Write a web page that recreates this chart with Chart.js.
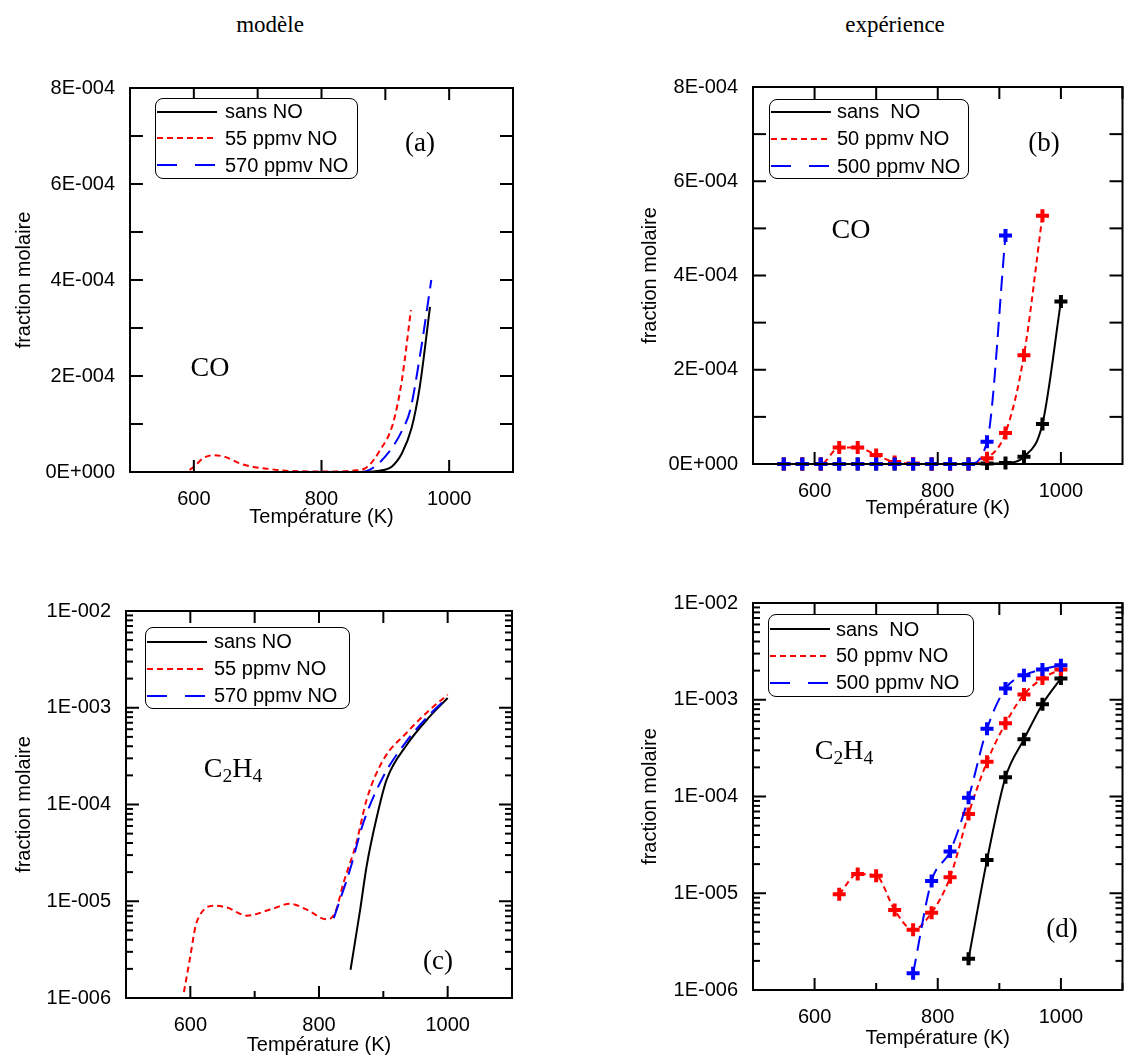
<!DOCTYPE html>
<html>
<head>
<meta charset="utf-8">
<script src="https://cdn.jsdelivr.net/npm/chart.js@4.4.1/dist/chart.umd.min.js"></script>
<style>
  body { margin: 0; background: #fff; }
  #fig { position: relative; width: 1133px; height: 1057px; overflow: hidden; font-family: "Liberation Sans", Arial, sans-serif; }
  canvas { position: absolute; }
  .serif { position: absolute; font-family: "Liberation Serif", "Times New Roman", serif; color: #000; transform: translate(-50%, -50%); white-space: nowrap; line-height: 1; }
  .serif sub { font-size: 0.7em; vertical-align: -0.25em; line-height: 0; }
  .legend { position: absolute; border: 1px solid #000; border-radius: 8px; background: #fff; box-sizing: border-box; }
  .legend .row { position: absolute; left: 1px; height: 24px; display: flex; align-items: center; white-space: pre; font-size: 20px; color: #000; }
  .legend svg { display: block; }
</style>
</head>
<body>
<div id="fig">
  <div class="serif" style="left:270px; top:24px; font-size:23px;">modèle</div>
  <div class="serif" style="left:895px; top:24px; font-size:23px;">expérience</div>

  <canvas id="chartA" width="533" height="475" style="left:0px; top:60px;"></canvas>
  <canvas id="chartB" width="573" height="475" style="left:560px; top:60px;"></canvas>
  <canvas id="chartC" width="533" height="477" style="left:0px; top:580px;"></canvas>
  <canvas id="chartD" width="573" height="482" style="left:560px; top:575px;"></canvas>

  <div class="serif" style="left:420px; top:142px; font-size:27px;">(a)</div>
  <div class="serif" style="left:210px; top:367px; font-size:28px;">CO</div>
  <div class="serif" style="left:1044px; top:142px; font-size:27px;">(b)</div>
  <div class="serif" style="left:851px; top:229px; font-size:28px;">CO</div>
  <div class="serif" style="left:233px; top:768px; font-size:28px;">C<sub>2</sub>H<sub>4</sub></div>
  <div class="serif" style="left:438px; top:960px; font-size:27px;">(c)</div>
  <div class="serif" style="left:844px; top:750px; font-size:28px;">C<sub>2</sub>H<sub>4</sub></div>
  <div class="serif" style="left:1062px; top:928px; font-size:27px;">(d)</div>
</div>
<script>
// legend texts
const legendModel = ["sans NO", "55 ppmv NO", "570 ppmv NO"];
const legendExp = ["sans  NO", "50 ppmv NO", "500 ppmv NO"];

// axis ticks
const xLabels = [600, 800, 1000];
const yLinLabels = [0, 2e-4, 4e-4, 6e-4, 8e-4];
const yLogLabels = [1e-6, 1e-5, 1e-4, 1e-3, 1e-2];

// (a) modèle, CO
const tA_sans = [500, 850, 880, 897, 910, 926, 941, 954, 970];
const coA_sans = [0, 0, 1e-6, 4e-6, 1.1e-5, 3.9e-5, 9.1e-5, 1.78e-4, 3.44e-4];
const tA_55 = [500, 585, 600, 615, 630, 650, 672, 695, 714, 740, 770, 810, 850, 871, 892, 912, 926, 940];
const coA_55 = [0, 0, 1.1e-5, 2.9e-5, 3.5e-5, 3.1e-5, 1.8e-5, 1.0e-5, 7e-6, 3e-6, 1.5e-6, 1e-6, 3e-6, 1e-5, 4.6e-5, 1.01e-4, 1.92e-4, 3.37e-4];
const tA_570 = [500, 862, 876, 892, 912, 926, 939, 954, 972];
const coA_570 = [0, 0, 5e-6, 2.1e-5, 5.3e-5, 8.6e-5, 1.29e-4, 2.4e-4, 4.0e-4];

// (b) expérience, CO
const tB_sans = [550, 580, 610, 640, 670, 700, 730, 760, 790, 820, 850, 880, 910, 940, 970, 1000];
const coB_sans = [0, 0, 0, 0, 0, 0, 0, 0, 0, 0, 0, 1e-6, 2e-6, 1.55e-5, 8.5e-5, 3.45e-4];
const tB_50 = [550, 580, 610, 640, 670, 700, 730, 760, 790, 820, 850, 880, 910, 940, 970];
const coB_50 = [0, 0, 0, 3.5e-5, 3.5e-5, 1.9e-5, 4e-6, 1e-6, 0, 0, 0, 1.2e-5, 6.6e-5, 2.31e-4, 5.27e-4];
const tB_500 = [550, 580, 610, 640, 670, 700, 730, 760, 790, 820, 850, 880, 910];
const coB_500 = [0, 0, 0, 0, 0, 0, 0, 0, 0, 0, 0, 4.7e-5, 4.85e-4];

// (c) modèle, C2H4
const tC_sans = [849, 864, 874, 890, 905, 936, 972, 1000];
const c2h4C_sans = [1.96e-6, 8.2e-6, 2.3e-5, 7.5e-5, 1.8e-4, 4.1e-4, 8.1e-4, 1.26e-3];
const tC_55 = [590, 600, 608, 615, 625, 636, 657, 688, 724, 755, 781, 812, 825, 838, 858, 874, 900, 936, 972, 1000];
const c2h4C_55 = [1.15e-6, 2.7e-6, 5.5e-6, 7.2e-6, 8.6e-6, 9e-6, 8.6e-6, 7.1e-6, 8.2e-6, 9.4e-6, 8.2e-6, 6.5e-6, 7.6e-6, 1.54e-5, 4e-5, 1.12e-4, 2.9e-4, 5.5e-4, 9.5e-4, 1.36e-3];
const tC_570 = [823, 848, 869, 900, 936, 972, 1000];
const c2h4C_570 = [6.7e-6, 2.1e-5, 6.5e-5, 1.95e-4, 4.5e-4, 8.5e-4, 1.28e-3];

// (d) expérience, C2H4
const tD_sans = [850, 880, 910, 940, 970, 1000];
const c2h4D_sans = [2.1e-6, 2.2e-5, 1.58e-4, 3.9e-4, 9.0e-4, 1.66e-3];
const tD_50 = [640, 670, 700, 730, 760, 790, 820, 850, 880, 910, 940, 970, 1000];
const c2h4D_50 = [9.75e-6, 1.58e-5, 1.52e-5, 6.7e-6, 4.2e-6, 6.3e-6, 1.46e-5, 6.6e-5, 2.28e-4, 5.7e-4, 1.13e-3, 1.66e-3, 2.06e-3];
const tD_500 = [760, 790, 820, 850, 880, 910, 940, 970, 1000];
const c2h4D_500 = [1.49e-6, 1.34e-5, 2.7e-5, 9.7e-5, 5.0e-4, 1.31e-3, 1.79e-3, 2.06e-3, 2.27e-3];

const pts = (xs, ys) => xs.map((x, i) => ({ x: x, y: ys[i] }));

function fmtE(v) {
  if (v === 0) return "0E+000";
  const e = Math.floor(Math.log10(v) + 1e-9);
  const m = Math.round(v / Math.pow(10, e));
  return m + "E" + (e < 0 ? "-" : "+") + String(Math.abs(e)).padStart(3, "0");
}
const isIn = (arr, v) => arr.some(a => Math.abs(a - v) <= Math.abs(a) * 1e-6 + 1e-12);

Chart.defaults.font.family = '"Liberation Sans", Arial, sans-serif';
Chart.defaults.font.size = 20;
Chart.defaults.color = "#000";

// frame + inward tick marks on all four sides
function frameTicks(isLog, bottomMinor) {
  return {
    id: "frameTicks",
    afterDraw(chart) {
      const ctx = chart.ctx;
      const ca = chart.chartArea;
      const xs = chart.scales.x, ys = chart.scales.y;
      ctx.save();
      ctx.setLineDash([]);
      ctx.strokeStyle = "#000000";
      ctx.lineWidth = 2;
      const seg = (x1, y1, x2, y2) => {
        ctx.beginPath(); ctx.moveTo(x1, y1); ctx.lineTo(x2, y2); ctx.stroke();
      };
      for (let t = 500; t <= 1100; t += 100) {
        const px = xs.getPixelForValue(t);
        const lenB = t % 200 === 0 ? 12 : bottomMinor;
        if (lenB > 0) seg(px, ca.bottom, px, ca.bottom - lenB);
        seg(px, ca.top, px, ca.top + 12);
      }
      const yt = [];
      if (isLog) {
        for (let e = -6; e < -2; e++)
          for (let m = 1; m < 10; m++) yt.push([m * Math.pow(10, e), m === 1 ? 13 : 7]);
        yt.push([1e-2, 13]);
      } else {
        for (let k = 0; k <= 8; k++) yt.push([k * 1e-4, 13]);
      }
      yt.forEach(p => {
        const py = ys.getPixelForValue(p[0]);
        seg(ca.left, py, ca.left + p[1], py);
        seg(ca.right, py, ca.right - p[1], py);
      });
      ctx.strokeRect(ca.left, ca.top, ca.right - ca.left, ca.bottom - ca.top);
      ctx.restore();
    }
  };
}

const styles = [
  { color: "#000000", dash: [], legendDash: "none", order: 2 },
  { color: "#ff0000", dash: [6, 4], legendDash: "6,4", order: 1 },
  { color: "#0000ff", dash: [15, 8], legendDash: "20,18", order: 0 }
];

function makeChart(id, p) {
  const c = document.getElementById(id);
  const cl = parseFloat(c.style.left), ct = parseFloat(c.style.top);
  const series = p.series.map((s, i) => ({
    label: p.labels[i],
    data: pts(s[0], s[1]),
    borderColor: styles[i].color,
    backgroundColor: styles[i].color,
    borderDash: styles[i].dash,
    borderWidth: 2,
    order: styles[i].order,
    clip: p.markers ? false : undefined,
    cubicInterpolationMode: "monotone",
    pointStyle: "cross",
    pointRadius: p.markers ? 6.5 : 0,
    pointBorderWidth: 4,
    pointBorderColor: styles[i].color
  }));
  const yScale = p.log
    ? { type: "logarithmic", min: 1e-6, max: 1e-2,
        ticks: { autoSkip: false, padding: 7, callback: v => isIn(yLogLabels, v) ? fmtE(v) : "" } }
    : { type: "linear", min: 0, max: 8e-4,
        ticks: { stepSize: 2e-4, autoSkip: false, padding: 7, callback: v => isIn(yLinLabels, v) ? fmtE(v) : "" } };
  Object.assign(yScale, {
    grid: { display: false },
    border: { display: true, color: "#000", width: 2 },
    title: { display: true, text: "fraction molaire", font: { size: 20 }, padding: { top: p.yTitleX - cl - 12 } },
    afterFit: s => { s.width = p.area.left - cl; }
  });
  return new Chart(c, {
    type: "line",
    data: { datasets: series },
    options: {
      responsive: false,
      animation: false,
      layout: { padding: { left: 0, top: p.area.top - ct, right: cl + c.width - p.area.right, bottom: 0 } },
      scales: {
        x: {
          type: "linear", min: 500, max: 1100,
          grid: { display: false },
          border: { display: true, color: "#000", width: 2 },
          ticks: { stepSize: 100, autoSkip: false, maxRotation: 0, padding: 7,
                   callback: v => xLabels.includes(v) ? String(v) : "" },
          title: { display: true, text: "Température (K)", font: { size: 20 },
                   padding: { top: 0, bottom: ct + c.height - p.xTitleY - 12 } },
          afterFit: s => { s.height = ct + c.height - p.area.bottom; }
        },
        y: yScale
      },
      plugins: {
        legend: { display: false },
        tooltip: { enabled: false }
      }
    },
    plugins: [frameTicks(p.log, p.bottomMinor)]
  });
}

function makeLegend(box, labels) {
  const fig = document.getElementById("fig");
  const d = document.createElement("div");
  d.className = "legend";
  Object.assign(d.style, { left: box.left + "px", top: box.top + "px", width: box.width + "px", height: box.height + "px" });
  labels.forEach((txt, i) => {
    const r = document.createElement("div");
    r.className = "row";
    r.style.top = (box.rows[i] - 12) + "px";
    r.innerHTML = '<svg width="60" height="4"><line x1="0" y1="2" x2="60" y2="2" stroke="' + styles[i].color +
      '" stroke-width="2" stroke-dasharray="' + styles[i].legendDash + '"/></svg><span style="margin-left:' + box.gap + 'px">' + txt + "</span>";
    d.appendChild(r);
  });
  fig.appendChild(d);
}

makeChart("chartA", {
  labels: legendModel, markers: false, log: false, bottomMinor: 0,
  series: [[tA_sans, coA_sans], [tA_55, coA_55], [tA_570, coA_570]],
  area: { left: 130, top: 88, right: 513, bottom: 472 }, yTitleX: 24, xTitleY: 517
});
makeChart("chartB", {
  labels: legendExp, markers: true, log: false, bottomMinor: 0,
  series: [[tB_sans, coB_sans], [tB_50, coB_50], [tB_500, coB_500]],
  area: { left: 753, top: 87, right: 1129, bottom: 464 }, yTitleX: 650, xTitleY: 508
});
makeChart("chartC", {
  labels: legendModel, markers: false, log: true, bottomMinor: 7,
  series: [[tC_sans, c2h4C_sans], [tC_55, c2h4C_55], [tC_570, c2h4C_570]],
  area: { left: 126, top: 611, right: 512, bottom: 998 }, yTitleX: 24, xTitleY: 1045
});
makeChart("chartD", {
  labels: legendExp, markers: true, log: true, bottomMinor: 7,
  series: [[tD_sans, c2h4D_sans], [tD_50, c2h4D_50], [tD_500, c2h4D_500]],
  area: { left: 753, top: 603, right: 1132, bottom: 990 }, yTitleX: 650, xTitleY: 1038
});

makeLegend({ left: 155, top: 98, width: 203, height: 81, rows: [12.5, 39, 66], gap: 8 }, legendModel);
makeLegend({ left: 769, top: 99, width: 200, height: 80, rows: [11.5, 38.5, 66], gap: 6 }, legendExp);
makeLegend({ left: 145, top: 627, width: 205, height: 82, rows: [13.5, 40.5, 67.5], gap: 7 }, legendModel);
makeLegend({ left: 768, top: 614, width: 206, height: 83, rows: [14, 40.5, 67.5], gap: 6 }, legendExp);
</script>
</body>
</html>
